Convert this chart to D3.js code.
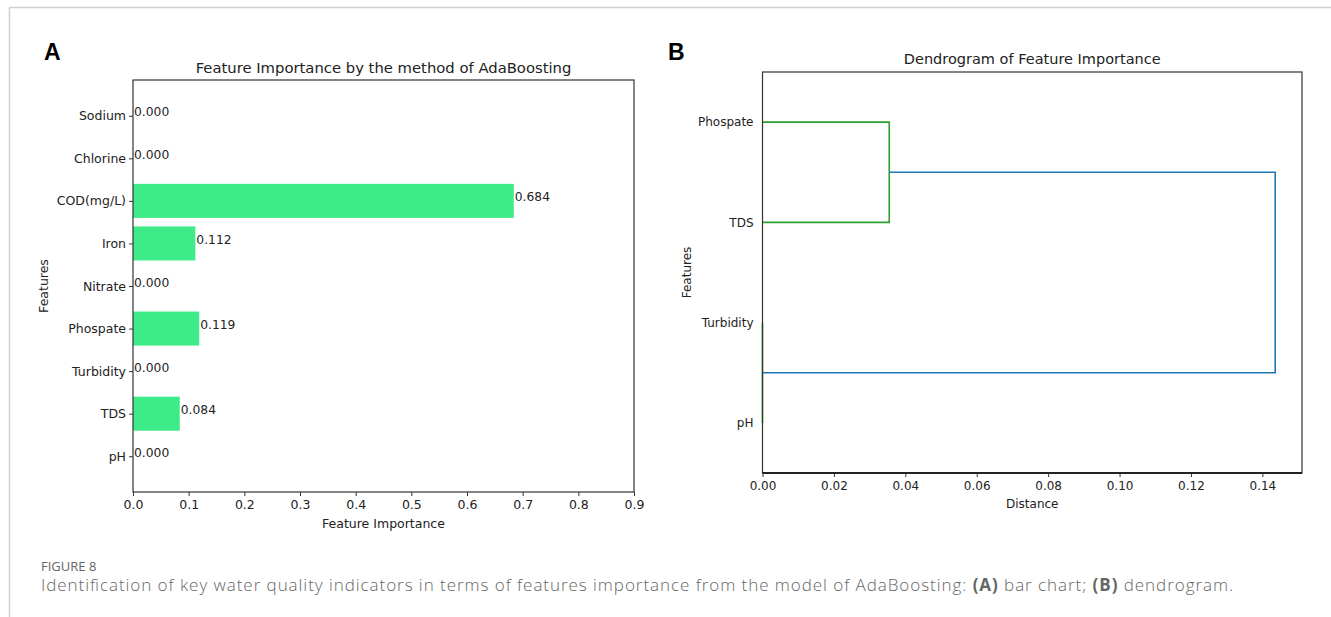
<!DOCTYPE html>
<html>
<head>
<meta charset="utf-8">
<script src="https://cdn.jsdelivr.net/npm/d3@7"></script>
<style>
  body { margin: 0; background: #fff; }
  svg text { font-family: "DejaVu Sans", sans-serif; fill: #222; }
  .axis path, .axis line { stroke: #333; }
  .axis text { fill: #222; }
</style>
</head>
<body>
<svg width="1331" height="617"></svg>
<script>
// panel A data, listed top to bottom
var features = ["Sodium", "Chlorine", "COD(mg/L)", "Iron", "Nitrate", "Phospate", "Turbidity", "TDS", "pH"];
var importance = [0.000, 0.000, 0.684, 0.112, 0.000, 0.119, 0.000, 0.084, 0.000];
var importanceTicks = [0, 0.1, 0.2, 0.3, 0.4, 0.5, 0.6, 0.7, 0.8, 0.9];

// panel B data, leaves bottom to top, links as scipy icoord/dcoord
var leaves = ["pH", "Turbidity", "TDS", "Phospate"];
var leafPos = [5, 15, 25, 35];
var linkPos = [[5, 5, 15, 15], [25, 25, 35, 35], [10, 10, 30, 30]];
var linkDist = [[0, 0, 0, 0], [0, 0.0355, 0.0355, 0], [0, 0.1436, 0.1436, 0.0355]];
var linkColor = ["#2ca02c", "#2ca02c", "#1f77b4"];
var distTicks = [0, 0.02, 0.04, 0.06, 0.08, 0.10, 0.12, 0.14];

var svg = d3.select("svg");

// page frame lines
svg.append("line").attr("x1", 9.5).attr("x2", 1331).attr("y1", 7.5).attr("y2", 7.5)
   .attr("stroke", "#d0d0d0").attr("stroke-width", 1.5);
svg.append("line").attr("x1", 9.5).attr("x2", 9.5).attr("y1", 7.5).attr("y2", 617)
   .attr("stroke", "#d0d0d0").attr("stroke-width", 1.5);

// ---------- panel A ----------
var a = {left: 133, right: 634, top: 80, bottom: 492};
var xA = d3.scaleLinear().domain([0, 0.9]).range([a.left, a.right]);
var yA = d3.scaleLinear().domain([-0.84, 8.84]).range([a.bottom, a.top]);

function rowPos(i) { return features.length - 1 - i; }

svg.append("text").attr("x", 44).attr("y", 60)
   .style("font-family", "'Liberation Sans', Arial, sans-serif")
   .style("font-weight", "bold").style("font-size", "23px")
   .style("fill", "#000").text("A");

svg.append("text").attr("x", (a.left + a.right) / 2).attr("y", 73)
   .attr("text-anchor", "middle").style("font-size", "14.8px").text("Feature Importance by the method of AdaBoosting");

svg.selectAll(".bar")
   .data(importance)
   .enter()
   .append("rect")
   .attr("class", "bar")
   .attr("fill", "#3deb89")
   .attr("x", xA(0))
   .attr("width", function(d) { return xA(d) - xA(0); })
   .attr("y", function(d, i) { return yA(rowPos(i) + 0.4); })
   .attr("height", function(d, i) { return yA(rowPos(i) - 0.4) - yA(rowPos(i) + 0.4); });

svg.selectAll(".vlab")
   .data(importance)
   .enter()
   .append("text")
   .attr("class", "vlab")
   .attr("x", function(d) { return xA(d) + 1; })
   .attr("y", function(d, i) { return yA(rowPos(i)) + 0.5; })
   .style("font-size", "12.3px")
   .text(function(d) { return d.toFixed(3); });

var axA_x = svg.append("g").attr("class", "axis")
   .attr("transform", "translate(0," + a.bottom + ")")
   .call(d3.axisBottom(xA).tickValues(importanceTicks).tickFormat(d3.format(".1f")).tickSize(4).tickPadding(4));
var axA_y = svg.append("g").attr("class", "axis")
   .attr("transform", "translate(" + a.left + ",0)")
   .call(d3.axisLeft(yA).tickValues(features.map(function(d, i) { return rowPos(i); }))
         .tickFormat(function(v) { return features[features.length - 1 - v]; }).tickSize(4).tickPadding(3));
[axA_x, axA_y].forEach(function(g) {
  g.select(".domain").remove();
  g.selectAll("text").style("font-family", "'DejaVu Sans', sans-serif").style("font-size", "12.5px");
});

svg.append("rect").attr("x", a.left).attr("y", a.top)
   .attr("width", a.right - a.left).attr("height", a.bottom - a.top)
   .attr("fill", "none").attr("stroke", "#333").attr("stroke-width", 1.2);

svg.append("text").attr("x", (a.left + a.right) / 2).attr("y", 528)
   .attr("text-anchor", "middle").style("font-size", "12.5px").text("Feature Importance");
svg.append("text").attr("transform", "translate(48," + ((a.top + a.bottom) / 2) + ") rotate(-90)")
   .attr("text-anchor", "middle").style("font-size", "12.5px").text("Features");

// ---------- panel B ----------
var b = {left: 762.5, right: 1302, top: 72, bottom: 473};
var xB = d3.scaleLinear().domain([0, 0.1511]).range([b.left, b.right]);
var yB = d3.scaleLinear().domain([0, 40]).range([b.bottom, b.top]);

svg.append("text").attr("x", 668).attr("y", 60)
   .style("font-family", "'Liberation Sans', Arial, sans-serif")
   .style("font-weight", "bold").style("font-size", "23px")
   .style("fill", "#000").text("B");

svg.append("text").attr("x", (b.left + b.right) / 2).attr("y", 64)
   .attr("text-anchor", "middle").style("font-size", "14.5px").text("Dendrogram of Feature Importance");

var link = d3.line()
   .x(function(p) { return xB(p[0]); })
   .y(function(p) { return yB(p[1]); });

svg.selectAll(".link")
   .data(linkPos)
   .enter()
   .append("path")
   .attr("class", "link")
   .attr("fill", "none")
   .attr("stroke-width", 1.6)
   .attr("stroke", function(d, i) { return linkColor[i]; })
   .attr("d", function(d, i) { return link(d.map(function(y, k) { return [linkDist[i][k], y]; })); });

var axB_x = svg.append("g").attr("class", "axis")
   .attr("transform", "translate(0," + b.bottom + ")")
   .call(d3.axisBottom(xB).tickValues(distTicks).tickFormat(d3.format(".2f")).tickSize(4).tickPadding(4));
var axB_y = svg.append("g").attr("class", "axis")
   .attr("transform", "translate(" + b.left + ",0)")
   .call(d3.axisLeft(yB).tickValues(leafPos).tickFormat(function(v, i) { return leaves[i]; }).tickSize(0).tickPadding(9));
[axB_x, axB_y].forEach(function(g) {
  g.select(".domain").remove();
  g.selectAll("text").style("font-family", "'DejaVu Sans', sans-serif").style("font-size", "12px");
});

svg.append("rect").attr("x", b.left).attr("y", b.top)
   .attr("width", b.right - b.left).attr("height", b.bottom - b.top)
   .attr("fill", "none").attr("stroke", "#333").attr("stroke-width", 1.2);
svg.append("line").attr("x1", b.left).attr("x2", b.right).attr("y1", b.bottom).attr("y2", b.bottom)
   .attr("stroke", "#222").attr("stroke-width", 2);

svg.append("text").attr("x", (b.left + b.right) / 2).attr("y", 508)
   .attr("text-anchor", "middle").style("font-size", "12px").text("Distance");
svg.append("text").attr("transform", "translate(691," + ((b.top + b.bottom) / 2) + ") rotate(-90)")
   .attr("text-anchor", "middle").style("font-size", "12px").text("Features");

// ---------- caption ----------
svg.append("text").attr("x", 41).attr("y", 571)
   .style("font-family", "'Open Sans', 'Noto Sans', sans-serif").style("font-size", "13px")
   .style("fill", "#666").text("FIGURE 8");
var cap = svg.append("text").attr("x", 41).attr("y", 591)
   .attr("textLength", 1192).attr("lengthAdjust", "spacing")
   .style("font-family", "'Open Sans', 'Noto Sans', sans-serif").style("font-size", "17px")
   .style("fill", "#666").style("font-weight", "300");
cap.append("tspan").text("Identification of key water quality indicators in terms of features importance from the model of AdaBoosting: ");
cap.append("tspan").style("font-weight", "bold").text("(A)");
cap.append("tspan").text(" bar chart; ");
cap.append("tspan").style("font-weight", "bold").text("(B)");
cap.append("tspan").text(" dendrogram.");
</script>
</body>
</html>
